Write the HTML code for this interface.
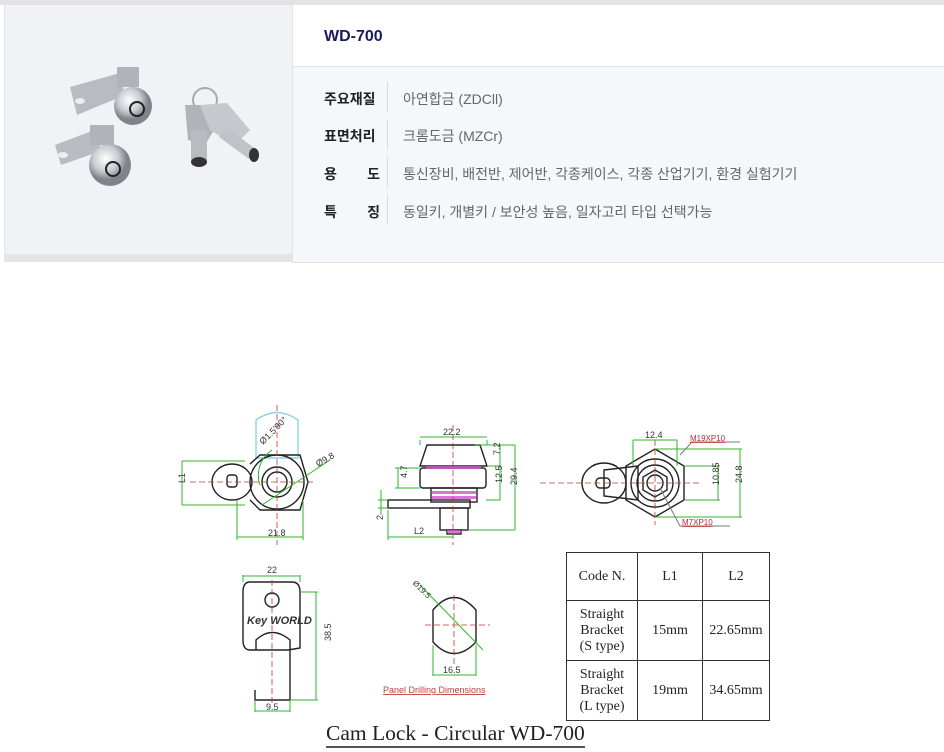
<!DOCTYPE html>
<html><head><meta charset="utf-8"><style>
body{margin:0;width:944px;height:752px;background:#fff;position:relative;overflow:hidden;font-family:"Liberation Sans","Noto Sans CJK KR",sans-serif}
.topbar{position:absolute;left:0;top:0;width:944px;height:5px;background:#e3e3e3}
.img{position:absolute;left:4px;top:5px;width:288px;height:257px;background:#f1f2f5;border-left:1px solid #e6e6e6}
.img .strip{position:absolute;left:0;bottom:0;width:100%;height:8px;background:#e4e5e8}
.right{position:absolute;left:292px;top:5px;width:652px;height:257px;background:#f6f7fa;border-left:1px solid #e2e2e2;border-bottom:1px solid #e2e2e2}
.head{position:absolute;left:0;top:0;width:652px;height:61px;background:#fff;border-bottom:1px solid #e2e4e8}
.head b{position:absolute;left:31px;top:23px;font-size:16px;color:#1b1a5e}
.row{position:absolute;left:31px;font-size:14px;color:#666}
.row .k{position:absolute;left:0;width:56px;font-weight:bold;color:#222;text-align-last:justify}
.row .sep{position:absolute;left:63px;top:-7px;width:1px;height:30px;background:#d8d8d8}
.row .v{position:absolute;left:79px;white-space:nowrap}
table{position:absolute;left:566px;top:552px;border-collapse:collapse;font-family:"Liberation Serif",serif;font-size:14px;color:#222}
td{border:1px solid #333;text-align:center;padding:0;line-height:16px}
.title{position:absolute;left:326px;top:721px;font-family:"Liberation Serif",serif;font-size:21.5px;color:#222;border-bottom:2px solid #555;line-height:24px;padding-bottom:1px}
</style></head><body>
<div class="topbar"></div>
<div class="img"><div class="strip"></div>
<svg width="288" height="257" style="position:absolute;left:0;top:0">
<defs><radialGradient id="m" cx="40%" cy="35%"><stop offset="0" stop-color="#ffffff"/><stop offset=".6" stop-color="#c9ccd2"/><stop offset="1" stop-color="#80838a"/></radialGradient></defs>
<path d="M65 82 L115 68 L120 90 L72 110 Z" fill="#b8bbc1"/><ellipse cx="75" cy="96" rx="5" ry="3" fill="#eee"/>
<rect x="112" y="62" width="22" height="20" fill="#b0b3b9"/>
<circle cx="128" cy="101" r="19" fill="url(#m)"/><circle cx="132" cy="104" r="7" fill="none" stroke="#222" stroke-width="2"/>
<path d="M50 140 L92 124 L96 146 L56 160 Z" fill="#b8bbc1"/><ellipse cx="58" cy="150" rx="5" ry="3" fill="#eee"/>
<rect x="85" y="120" width="24" height="20" fill="#b0b3b9"/>
<circle cx="105" cy="160" r="21" fill="url(#m)"/><circle cx="108" cy="164" r="7" fill="none" stroke="#222" stroke-width="2"/>
<circle cx="200" cy="95" r="12" fill="none" stroke="#aaa" stroke-width="2"/>
<path d="M180 100 L205 100 L212 120 L200 140 L183 135 Z" fill="#b0b3b8"/>
<path d="M195 100 L222 98 L245 125 L230 140 L205 125 Z" fill="#c5c8cd"/>
<rect x="186" y="125" width="16" height="32" fill="#b8bbc0"/><ellipse cx="194" cy="157" rx="8" ry="5" fill="#333"/>
<path d="M222 123 L252 145 L244 154 L214 132 Z" fill="#bfc2c7"/><ellipse cx="249" cy="150" rx="5" ry="7" fill="#333"/>
</svg></div>
<div class="right">
<div class="head"><b>WD-700</b></div>
<div class="row" style="top:84px"><span class="k">주요재질</span><span class="sep"></span><span class="v">아연합금 (ZDCll)</span></div>
<div class="row" style="top:121px"><span class="k">표면처리</span><span class="sep"></span><span class="v">크롬도금 (MZCr)</span></div>
<div class="row" style="top:159px"><span class="k">용 도</span><span class="sep"></span><span class="v">통신장비, 배전반, 제어반, 각종케이스, 각종 산업기기, 환경 실험기기</span></div>
<div class="row" style="top:197px"><span class="k">특 징</span><span class="sep"></span><span class="v">동일키, 개별키 / 보안성 높음, 일자고리 타입 선택가능</span></div>
</div>

<svg width="944" height="752" style="position:absolute;left:0;top:0" font-family="Liberation Sans,sans-serif" font-size="9">
<g fill="none" stroke="#222" stroke-width="1.4">
<path d="M256 420 Q277 405 298 420 L298 458 L256 458 Z" stroke="#8cd3e6"/>
<ellipse cx="232" cy="482" rx="20" ry="18"/><rect x="227" y="475" width="10" height="12" rx="3"/>
<path d="M250 464 L260 455 L300 455 L308 482 L300 510 L260 510 L250 500"/>
<circle cx="277" cy="482" r="27"/><circle cx="277" cy="482" r="15"/><circle cx="277" cy="482" r="10"/>
<path d="M427 445 L480 445 L487 466 L420 466 Z"/>
<rect x="420" y="468" width="66" height="20" rx="3"/>
<rect x="431" y="488" width="46" height="14"/>
<rect x="388" y="500" width="82" height="8"/>
<rect x="440" y="508" width="28" height="22"/><rect x="447" y="530" width="14" height="4"/>
<path d="M604 470 L638 466 L638 500 L604 496 Z"/><ellipse cx="604" cy="483" rx="22" ry="20"/><rect x="596" y="478" width="14" height="10" rx="4"/>
<path d="M655 449 L684 466 L684 500 L655 517 L626 500 L626 466 Z"/>
<circle cx="655" cy="483" r="24"/><circle cx="655" cy="483" r="18"/>
<path d="M655 470 L667 477 L667 490 L655 497 L643 490 L643 477 Z"/><circle cx="655" cy="483" r="8"/>
<path d="M250 582 L292 582 Q300 582 300 592 L300 648 L288 650 L262 650 L250 650 Q243 650 243 640 L243 592 Q243 582 250 582 Z"/>
<circle cx="272" cy="600" r="7"/>
<path d="M256 650 L256 640 Q272 625 290 640 L290 700 L255 700 L255 690"/>
<path d="M433 610 Q454 585 476 610 L476 642 Q454 665 433 642 Z"/>
</g>
<g fill="#cc55cc" opacity=".8"><rect x="426" y="466" width="55" height="3"/><rect x="432" y="491" width="44" height="3"/><rect x="432" y="496" width="44" height="3"/><rect x="447" y="530" width="14" height="3"/></g>
<g stroke="#c0392b" stroke-dasharray="6,3" stroke-width=".8">
<line x1="277" y1="405" x2="277" y2="545"/><line x1="190" y1="482" x2="315" y2="482"/>
<line x1="453" y1="425" x2="453" y2="545"/>
<line x1="540" y1="483" x2="700" y2="483"/><line x1="655" y1="440" x2="655" y2="525"/>
<line x1="272" y1="580" x2="272" y2="705"/>
<line x1="454" y1="595" x2="454" y2="665"/><line x1="425" y1="625" x2="490" y2="625"/>
</g>
<g stroke="#2db52d" stroke-width="1" fill="none">
<path d="M182 461 L245 461 M182 505 L245 505 M182 461 L182 505"/>
<path d="M237 500 L237 540 M303 500 L303 540 M237 537 L303 537"/>
<path d="M262 505 L330 460"/><path d="M260 485 A30 30 0 0 1 272 450"/>
<path d="M420 440 L420 445 M487 440 L487 445 M420 437 L487 437"/>
<path d="M480 445 L500 445 M487 466 L500 466 M500 445 L500 466 M486 500 L500 500 M500 466 L500 500"/>
<path d="M475 445 L515 445 M468 530 L515 530 M515 445 L515 530"/>
<path d="M395 468 L420 468 M395 488 L420 488 M398 468 L398 488"/>
<path d="M378 500 L388 500 M378 508 L388 508 M381 490 L381 515"/>
<path d="M388 510 L388 540 M388 537 L453 537"/>
<path d="M633 440 L633 466 M677 440 L677 466 M633 440 L677 440"/>
<path d="M684 466 L720 466 M684 500 L720 500 M718 466 L718 500"/>
<path d="M655 449 L742 449 M655 517 L742 517 M740 449 L740 517"/>
<path d="M680 455 L692 442 L740 442 M660 488 L680 526 L730 526" stroke="#777"/>
<path d="M243 575 L243 582 M300 575 L300 582 M243 576 L300 576"/>
<path d="M300 592 L318 592 M290 700 L318 700 M316 592 L316 700"/>
<path d="M255 700 L255 712 M290 700 L290 712 M255 711 L290 711"/>
<path d="M433 645 L433 676 M476 645 L476 676 M433 675 L476 675"/>
<path d="M420 585 L483 650"/>
</g>
<g fill="#333" font-size="9">
<text x="180" y="488" transform="rotate(-90 180 483)">L1</text>
<text x="268" y="536">21.8</text><text x="318" y="467" transform="rotate(-30 318 467)">Ø9.8</text>
<text x="263" y="445" transform="rotate(-45 263 445)">Ø1.5'90°</text>
<text x="443" y="435">22.2</text>
<text x="497" y="458" transform="rotate(-90 497 455)">7.2</text>
<text x="497" y="488" transform="rotate(-90 497 483)">12.5</text>
<text x="512" y="490" transform="rotate(-90 512 485)">29.4</text>
<text x="404" y="481" transform="rotate(-90 404 478)">4.7</text>
<text x="380" y="523" transform="rotate(-90 380 520)">2</text>
<text x="414" y="534">L2</text>
<text x="645" y="438">12.4</text>
<text x="712" y="492" transform="rotate(-90 712 485)">10.85</text>
<text x="737" y="488" transform="rotate(-90 737 483)">24.8</text>
<text x="690" y="441" fill="#b03030" font-size="8" text-decoration="underline">M19XP10</text>
<text x="682" y="525" fill="#b03030" font-size="8" text-decoration="underline">M7XP10</text>
<text x="267" y="573">22</text>
<text x="326" y="646" transform="rotate(-90 326 641)">38.5</text>
<text x="266" y="710">9.5</text>
<text x="247" y="624" font-size="11" font-style="italic" font-weight="bold">Key WORLD</text>
<text x="412" y="590" transform="rotate(45 420 587)" font-size="8">Ø19.5</text>
<text x="443" y="673">16.5</text>
<text x="383" y="693" fill="#c04040" font-size="9" text-decoration="underline">Panel Drilling Dimensions</text>
</g>
</svg>

<table>
<tr style="height:48px"><td style="width:70px">Code N.</td><td style="width:64px">L1</td><td style="width:66px">L2</td></tr>
<tr style="height:60px"><td>Straight<br>Bracket<br>(S type)</td><td>15mm</td><td>22.65mm</td></tr>
<tr style="height:60px"><td>Straight<br>Bracket<br>(L type)</td><td>19mm</td><td>34.65mm</td></tr>
</table>
<div class="title">Cam Lock - Circular WD-700</div>
</body></html>
